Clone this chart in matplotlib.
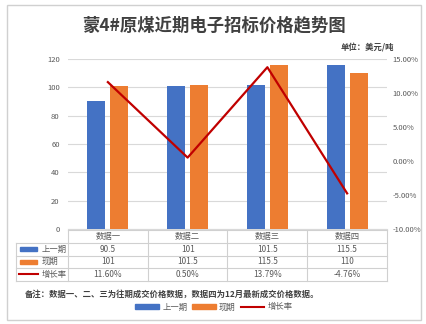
import matplotlib
matplotlib.use('Agg')
import matplotlib.pyplot as plt
from matplotlib.patches import Rectangle
from matplotlib.lines import Line2D

plt.rcParams['font.family'] = ['Noto Sans CJK SC', 'DejaVu Sans']

categories = ['数据一', '数据二', '数据三', '数据四']
prev_price = [90.5, 101, 101.5, 115.5]
curr_price = [101, 101.5, 115.5, 110]
growth = [11.60, 0.50, 13.79, -4.76]
series_names = ['上一期', '现期', '增长率']
left_ticks = [0, 20, 40, 60, 80, 100, 120]
right_ticks = [-10, -5, 0, 5, 10, 15]

blue = '#4472C4'
orange = '#ED7D31'
red = '#C00000'
grid_c = '#D9D9D9'
txt_c = '#595959'

W, H = 427, 324
fig = plt.figure(figsize=(W / 100, H / 100), dpi=100)

# pixel helpers
def fx(px):
    return px / W

def fy(py):
    return 1 - py / H

# plot area in pixels
PL, PR, PT, PB = 68, 387, 59, 229

ax = fig.add_axes([fx(PL), fy(PB), fx(PR) - fx(PL), fy(PT) - fy(PB)])
x = list(range(len(categories)))
bw = 0.225
ax.bar([i - 0.145 for i in x], prev_price, width=bw, color=blue, zorder=3)
ax.bar([i + 0.145 for i in x], curr_price, width=bw, color=orange, zorder=3)
ax.set_xlim(-0.5, len(categories) - 0.5)
ax.set_ylim(0, 120)
ax.set_yticks(left_ticks)
ax.set_yticklabels([str(t) for t in left_ticks], fontsize=5.5, color=txt_c)
ax.set_xticks([])
ax.grid(axis='y', color=grid_c, linewidth=0.8, zorder=0)
for s in ['top', 'right', 'left']:
    ax.spines[s].set_visible(False)
ax.spines['bottom'].set_color(grid_c)
ax.tick_params(axis='y', length=0, pad=6)

ax2 = ax.twinx()
ax2.plot(x, growth, color=red, linewidth=1.6, zorder=4)
ax2.set_ylim(-10, 15)
ax2.set_yticks(right_ticks)
ax2.set_yticklabels(['%.2f%%' % t for t in right_ticks], fontsize=5.5, color=txt_c)
ax2.tick_params(axis='y', length=0, pad=4)
for s in ax2.spines.values():
    s.set_visible(False)

# overlay in pixel coordinates for frame, title and data table
ov = fig.add_axes([0, 0, 1, 1], zorder=-1)
ov.set_xlim(0, W)
ov.set_ylim(H, 0)
ov.axis('off')
ov.add_patch(Rectangle((7, 5), 414, 315, fill=False, edgecolor='#D0D0D0', linewidth=1))

fig.text(fx(214), fy(25), '蒙4#原煤近期电子招标价格趋势图', ha='center', va='center',
         fontsize=12.5, fontweight='bold', color='#404040')
fig.text(fx(394), fy(48), '单位：美元/吨', ha='right', va='center',
         fontsize=6, fontweight='bold', color='#404040')

# data table
col_w = (PR - PL) / len(categories)
rows_y = [230, 243, 255.5, 268, 280.5]
TL = 16
tc = '#D0D0D0'
ov.plot([PL, PR], [rows_y[0], rows_y[0]], color=tc, lw=0.8)
for yy in rows_y[1:]:
    ov.plot([TL, PR], [yy, yy], color=tc, lw=0.8)
ov.plot([TL, TL], [rows_y[1], rows_y[-1]], color=tc, lw=0.8)
for i in range(len(categories) + 1):
    xx = PL + i * col_w
    ov.plot([xx, xx], [rows_y[0], rows_y[-1]], color=tc, lw=0.8)

rows = [
    [str(v) for v in prev_price],
    [str(v) for v in curr_price],
    ['%.2f%%' % v for v in growth],
]
for i, c in enumerate(categories):
    cx = PL + (i + 0.5) * col_w
    ov.text(cx, (rows_y[0] + rows_y[1]) / 2, c, ha='center', va='center',
            fontsize=6, color=txt_c)
    for r in range(3):
        ov.text(cx, (rows_y[r + 1] + rows_y[r + 2]) / 2, rows[r][i], ha='center',
                va='center', fontsize=6, color=txt_c)

keys = [blue, orange, red]
for r in range(3):
    cy = (rows_y[r + 1] + rows_y[r + 2]) / 2
    if r < 2:
        ov.add_patch(Rectangle((20, cy - 2), 17, 4, color=keys[r]))
    else:
        ov.plot([19, 38], [cy, cy], color=red, lw=1.5)
    ov.text(42, cy, series_names[r], ha='left', va='center', fontsize=6, color=txt_c)

fig.text(fx(25), fy(294), '备注：数据一、二、三为往期成交价格数据，数据四为12月最新成交价格数据。',
         ha='left', va='center', fontsize=6, fontweight='bold', color='#404040')

# legend
handles = [Rectangle((0, 0), 1, 1, color=blue), Rectangle((0, 0), 1, 1, color=orange),
           Line2D([0], [0], color=red, lw=1.5)]
fig.legend(handles, series_names, loc='center', bbox_to_anchor=(fx(214), fy(307)), ncol=3,
           frameon=False, fontsize=6, handlelength=2.8, handleheight=0.6,
           columnspacing=0.6, handletextpad=0.4, labelcolor=txt_c)

fig.savefig('out.png', dpi=100)
